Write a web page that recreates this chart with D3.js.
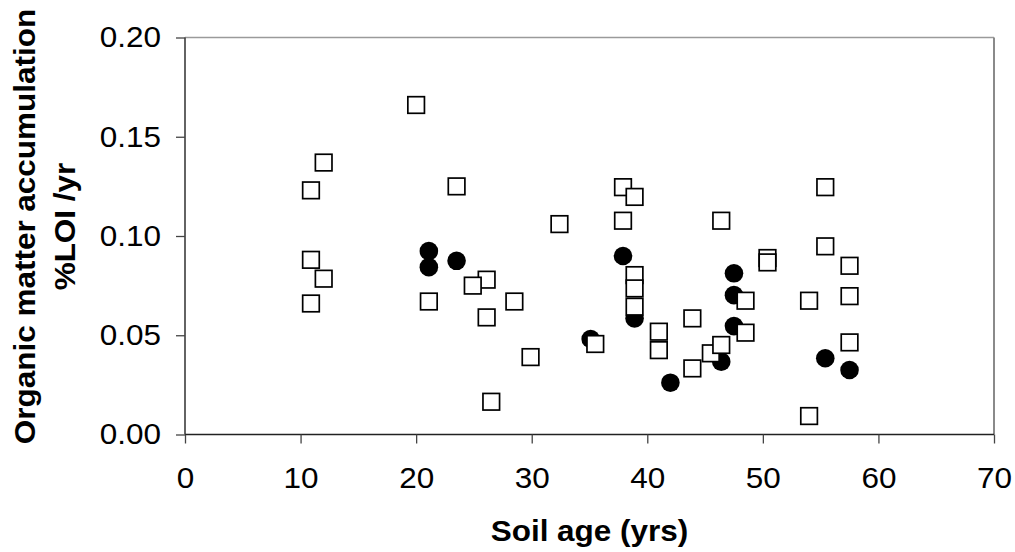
<!DOCTYPE html>
<html>
<head>
<meta charset="utf-8">
<script src="https://cdn.jsdelivr.net/npm/d3@7"></script>
<style>
  html, body { margin: 0; padding: 0; background: #fff; }
  svg { display: block; }
  text { font-family: "Liberation Sans", Arial, sans-serif; fill: #000; }
</style>
</head>
<body>
<svg id="chart" width="1015" height="552"></svg>
<script>
// ---- data ----
const xTicks = [0, 10, 20, 30, 40, 50, 60, 70];
const yTicks = [0.00, 0.05, 0.10, 0.15, 0.20];

const squareAge = [10.9, 12.0, 20.0, 23.5, 10.9, 12.0, 10.9, 21.1, 26.1, 24.9,
  28.5, 26.1, 29.9, 26.5, 32.4, 35.5, 37.9, 38.9, 37.9, 38.9,
  38.9, 38.9, 41.0, 41.0, 43.9, 43.9, 45.5, 46.4, 46.4, 48.5,
  48.5, 50.4, 50.4, 55.4, 55.4, 57.5, 57.5, 54.0, 57.5, 54.0];
const squareRate = [0.123, 0.137, 0.166, 0.125, 0.088, 0.0785, 0.066, 0.067, 0.078, 0.075,
  0.067, 0.059, 0.039, 0.0165, 0.106, 0.0456, 0.1246, 0.1197, 0.1077, 0.0803,
  0.0736, 0.0644, 0.0518, 0.0425, 0.0585, 0.0333, 0.0409, 0.0451, 0.1077, 0.0674,
  0.0513, 0.0889, 0.0867, 0.1246, 0.0948, 0.085, 0.0697, 0.0674, 0.0464, 0.0093];

const circleAge = [21.1, 21.1, 23.5, 35.1, 37.9, 38.9, 42.0, 46.4, 47.5, 47.5, 47.5, 55.4, 57.5];
const circleRate = [0.0924, 0.0843, 0.0875, 0.0481, 0.0899, 0.0585, 0.0261, 0.0367, 0.0812, 0.0702, 0.0546, 0.0384, 0.0325];

const xTitle = "Soil age (yrs)";
const yTitle1 = "Organic matter accumulation";
const yTitle2 = "%LOI /yr";

(function () {
// ---- layout ----
const svg = d3.select("#chart");
const pLeft = 185, pRight = 994, pTop = 37.5, pBottom = 434.5;
const STRETCH = 1.085;
const FS = "29px";

const x = d3.scaleLinear().domain([0, 70]).range([pLeft, pRight]);
const y = d3.scaleLinear().domain([0, 0.20]).range([pBottom, pTop]);

function stretch(sel) {
  sel.each(function () {
    const w = this.getComputedTextLength();
    d3.select(this).attr("textLength", w * STRETCH).attr("lengthAdjust", "spacingAndGlyphs");
  });
}

// frame (top & right)
svg.append("line").attr("x1", pLeft).attr("x2", pRight).attr("y1", pTop).attr("y2", pTop)
  .attr("stroke", "#9a9a9a").attr("stroke-width", 1.5);
svg.append("line").attr("x1", pRight).attr("x2", pRight).attr("y1", pTop).attr("y2", pBottom)
  .attr("stroke", "#8a8a8a").attr("stroke-width", 2);

// axes
const xAxis = svg.append("g").attr("transform", `translate(0,${pBottom})`)
  .call(d3.axisBottom(x).tickValues(xTicks).tickFormat(d3.format("d")).tickSize(9).tickPadding(24));
const yAxis = svg.append("g").attr("transform", `translate(${pLeft},0)`)
  .call(d3.axisLeft(y).tickValues(yTicks).tickFormat(d3.format(".2f")).tickSize(9).tickPadding(15));

[xAxis, yAxis].forEach(g => {
  g.attr("font-size", null).attr("font-family", null);
  g.select(".domain").attr("stroke", "#222").attr("stroke-width", 1.4);
  g.selectAll(".tick line").attr("stroke", "#444").attr("stroke-width", 1.3);
  g.selectAll(".tick text").style("font-size", FS).call(stretch);
});
xAxis.select(".domain").attr("d", `M${pLeft},0H${pRight}`);
yAxis.select(".domain").attr("d", `M0,${pBottom}V${pTop}`);

// titles
svg.append("text").attr("x", (pLeft + pRight) / 2).attr("y", 541)
  .attr("text-anchor", "middle").style("font-size", FS).style("font-weight", "bold")
  .text(xTitle).call(stretch);

const yt = svg.append("g").attr("transform", "translate(35,226.5) rotate(-90)");
yt.append("text").attr("x", 0).attr("y", 0).attr("text-anchor", "middle")
  .style("font-size", FS).style("font-weight", "bold").text(yTitle1).call(stretch);
yt.append("text").attr("x", 0).attr("y", 40).attr("text-anchor", "middle")
  .style("font-size", FS).style("font-weight", "bold").text(yTitle2).call(stretch);

// circles (drawn first)
const circles = circleAge.map((a, i) => ({ a, r: circleRate[i] }));
svg.append("g").selectAll("circle").data(circles).join("circle")
  .attr("cx", d => x(d.a)).attr("cy", d => y(d.r)).attr("r", 9.3)
  .attr("fill", "#000");

// squares
const squares = squareAge.map((a, i) => ({ a, r: squareRate[i] }));
const S = 16.6;
svg.append("g").selectAll("rect").data(squares).join("rect")
  .attr("x", d => x(d.a) - S / 2).attr("y", d => y(d.r) - S / 2)
  .attr("width", S).attr("height", S)
  .attr("fill", "#fff").attr("stroke", "#000").attr("stroke-width", 1.7);
})();
</script>
</body>
</html>
